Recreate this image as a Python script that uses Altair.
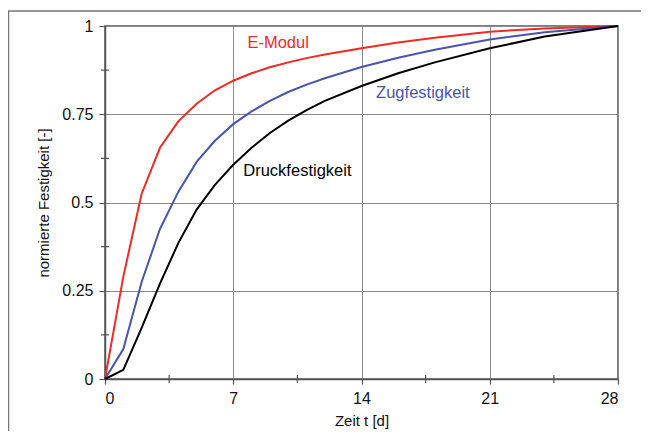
import altair as alt
import pandas as pd

# --- data ---
days = [0, 1, 2, 3, 4, 5, 6, 7, 8, 9, 10, 11, 12, 14, 16, 18, 21, 24, 28]
e_modul = [0, 0.29, 0.525, 0.655, 0.73, 0.78, 0.818, 0.845, 0.866, 0.883, 0.897,
           0.909, 0.919, 0.937, 0.953, 0.967, 0.984, 0.993, 1.0]
zugfestigkeit = [0, 0.085, 0.275, 0.425, 0.53, 0.615, 0.675, 0.722, 0.758, 0.788,
                 0.813, 0.834, 0.852, 0.884, 0.91, 0.933, 0.962, 0.982, 1.0]
druckfestigkeit = [0, 0.026, 0.145, 0.27, 0.385, 0.48, 0.55, 0.607, 0.655, 0.697,
                   0.732, 0.762, 0.788, 0.83, 0.866, 0.897, 0.937, 0.97, 1.0]

series_names = ["E-Modul", "Zugfestigkeit", "Druckfestigkeit"]
series_colors = ["#ee2b24", "#4a55a8", "#000000"]
label_colors = ["#e04a3a", "#5257a6", "#111111"]

label_x = [9.45, 17.35, 10.5]
label_y = [0.951, 0.81, 0.59]

x_ticks = [0, 7, 14, 21, 28]
x_minor = [3.5, 10.5, 17.5, 24.5]
y_ticks = [0, 0.25, 0.5, 0.75, 1]
y_minor = [0.125, 0.375, 0.625, 0.875]

rows = []
for name, vals in zip(series_names, [e_modul, zugfestigkeit, druckfestigkeit]):
    for d, v in zip(days, vals):
        rows.append({"t": d, "v": v, "serie": name})
df = pd.DataFrame(rows)

labels = pd.DataFrame({"t": label_x, "v": label_y, "serie": series_names})

W, H = 513, 353
xscale = alt.Scale(domain=[0, 28], nice=False, zero=False)
yscale = alt.Scale(domain=[0, 1], nice=False)
cscale = alt.Scale(domain=series_names, range=series_colors)
lscale = alt.Scale(domain=series_names, range=label_colors)

FONT = "Liberation Sans"

lines = alt.Chart(df).mark_line(strokeWidth=2).encode(
    x=alt.X("t:Q", scale=xscale,
            axis=alt.Axis(values=x_ticks, title="Zeit t [d]", grid=True,
                          format="d",
                          gridColor="#8a8a8a", gridWidth=1,
                          domainColor="#555555", domainWidth=1.5,
                          tickColor="#555555", tickSize=5, tickWidth=1.2,
                          labelFont=FONT, labelFontSize=16, labelColor="#111111",
                          labelPadding=6, titleFont=FONT, titleFontSize=15,
                          titleFontWeight="normal", titleColor="#111111",
                          titlePadding=7)),
    y=alt.Y("v:Q", scale=yscale,
            axis=alt.Axis(values=y_ticks, title="normierte Festigkeit [-]",
                          format=".2~f",
                          grid=True, gridColor="#8a8a8a", gridWidth=1,
                          domainColor="#555555", domainWidth=1.5,
                          tickColor="#555555", tickSize=6, tickWidth=1.2,
                          labelFont=FONT, labelFontSize=16, labelColor="#111111",
                          labelPadding=6, titleFont=FONT, titleFontSize=15,
                          titleFontWeight="normal", titleColor="#111111",
                          titlePadding=10)),
    color=alt.Color("serie:N", scale=cscale, legend=None),
    detail="serie:N",
)

text = alt.Chart(labels).mark_text(font=FONT, fontSize=16.5, align="center",
                                   baseline="middle").encode(
    x=alt.X("t:Q", scale=xscale),
    y=alt.Y("v:Q", scale=yscale),
    text="serie:N",
    color=alt.Color("serie:N", scale=lscale, legend=None),
)

xminor_df = pd.DataFrame({"t": x_minor})
xminor = alt.Chart(xminor_df).mark_rule(color="#555555", strokeWidth=1.2).encode(
    x=alt.X("t:Q", scale=xscale),
    y=alt.value(H - 4),
    y2=alt.value(H + 4),
)
yminor_df = pd.DataFrame({"v": y_minor})
yminor = alt.Chart(yminor_df).mark_rule(color="#555555", strokeWidth=1.2).encode(
    y=alt.Y("v:Q", scale=yscale),
    x=alt.value(-4),
    x2=alt.value(4),
)

frame_left = alt.Chart(pd.DataFrame({"a": [0]})).mark_rule(
    color="#777777", strokeWidth=1.5).encode(
    x=alt.value(-96.5), y=alt.value(-15), y2=alt.value(420))
frame_top = alt.Chart(pd.DataFrame({"a": [0]})).mark_rule(
    color="#777777", strokeWidth=1.5).encode(
    x=alt.value(-97), x2=alt.value(540), y=alt.value(-15))

chart = alt.layer(xminor, yminor, lines, text, frame_left, frame_top).properties(
    width=W, height=H,
    autosize=alt.AutoSizeParams(type="none"),
    padding={"left": 97, "top": 18, "right": 23, "bottom": 52},
    background="white",
).configure_view(stroke="#555555", strokeWidth=1.5)

chart.save("out.html", embed_options={"renderer": "svg", "actions": False})
